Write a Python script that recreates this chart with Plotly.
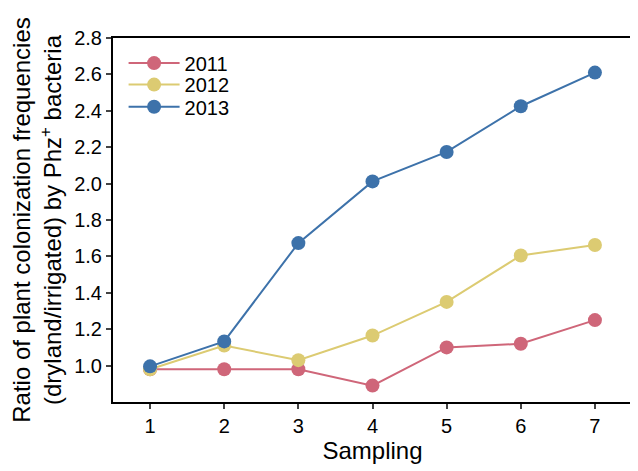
import plotly.graph_objects as go

sampling = [1, 2, 3, 4, 5, 6, 7]
y2011 = [0.98, 0.98, 0.98, 0.89, 1.10, 1.12, 1.25]
y2012 = [0.98, 1.11, 1.03, 1.165, 1.35, 1.605, 1.663]
y2013 = [0.996, 1.133, 1.673, 2.012, 2.174, 2.425, 2.61]
series = [("2011", y2011, "#cf6679"), ("2012", y2012, "#dccb72"), ("2013", y2013, "#3d72aa")]
yticks = [1.0, 1.2, 1.4, 1.6, 1.8, 2.0, 2.2, 2.4, 2.6, 2.8]
legend_rows = [0.931, 0.872, 0.811]

fig = go.Figure()
lnames = ["legend", "legend2", "legend3"]
for (name, ys, col), ln in zip(series, lnames):
    fig.add_trace(go.Scatter(x=sampling, y=ys, name=name, mode="lines+markers",
                             line=dict(color=col, width=2),
                             marker=dict(color=col, size=14), legend=ln))

leg_common = dict(x=0.0204, xanchor="left", yanchor="middle",
                  font=dict(size=20), bgcolor="rgba(0,0,0,0)", itemwidth=51)

# page body has an 8px margin, so the figure is drawn 8px smaller
fig.update_layout(
    width=630, height=463,
    margin=dict(l=105, r=6, t=30, b=69),
    plot_bgcolor="white", paper_bgcolor="white",
    font=dict(family="Liberation Sans, Arial, sans-serif", color="black", size=20),
    showlegend=True,
    legend=dict(y=legend_rows[0], **leg_common),
    legend2=dict(y=legend_rows[1], **leg_common),
    legend3=dict(y=legend_rows[2], **leg_common),
    xaxis=dict(range=[0.5, 7.5], tickvals=sampling, ticks="outside", ticklen=5,
               tickwidth=1.5, showgrid=False, zeroline=False, automargin=False,
               showline=True, linewidth=2, linecolor="black", mirror=True,
               title=dict(text="Sampling", font=dict(size=24), standoff=3)),
    yaxis=dict(range=[0.8, 2.8], tickvals=yticks, tickformat=".1f", ticks="outside",
               ticklen=5, tickwidth=1.5, showgrid=False, zeroline=False, automargin=False,
               showline=True, linewidth=2, linecolor="black", mirror=True,
               title=dict(text="Ratio of plant colonization frequencies<br>(dryland/irrigated) by Phz<sup>+</sup> bacteria",
                          font=dict(size=24), standoff=8)),
)
fig.write_html("out.html")
